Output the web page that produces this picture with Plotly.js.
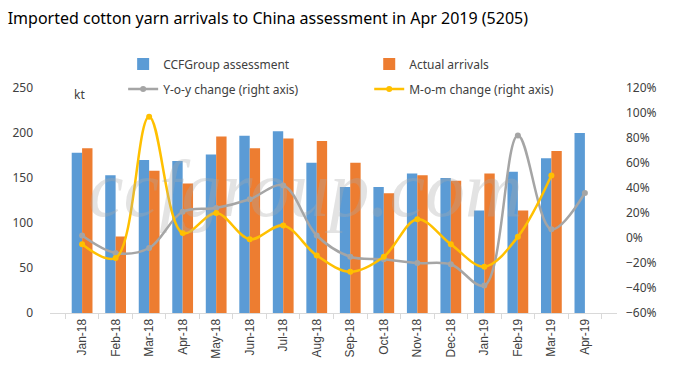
<!DOCTYPE html>
<html><head><meta charset="utf-8">
<script src="https://cdn.plot.ly/plotly-3.0.1.min.js"></script>
<style>html,body{margin:0;padding:0;background:#fff}#c{width:697px;height:377px}</style>
</head><body><div id="c"></div>
<script>
const months = ["Jan-18","Feb-18","Mar-18","Apr-18","May-18","Jun-18","Jul-18","Aug-18","Sep-18","Oct-18","Nov-18","Dec-18","Jan-19","Feb-19","Mar-19","Apr-19"];
const ccfAssessment = [178,153,170,169,176,197,202,167,140,140,155,150,114,157,172,200];
const actualArrivals = [183,85,158,144,196,183,194,191,167,133,153,147,155,114,180,null];
const yoyChange = [2,-12,-8,21,24,31,42,2,-15,-17,-20,-21,-38,82,7,36];
const momChange = [-5,-16,97,4,20,-1,10,-14,-27,-15,15,-5,-23,1,50,null];

const F = "Noto Sans, Open Sans, sans-serif";
const traces = [
 {type:'bar', name:'CCFGroup assessment', x:months, y:ccfAssessment, marker:{color:'#5B9BD5'}, legend:'legend'},
 {type:'bar', name:'Actual arrivals', x:months, y:actualArrivals, marker:{color:'#ED7D31'}, legend:'legend2'},
 {type:'scatter', mode:'lines+markers', name:'Y-o-y change (right axis)', x:months, y:yoyChange.map(v=>v/100), yaxis:'y2',
  line:{color:'#A5A5A5', width:2.5, shape:'spline', smoothing:1}, marker:{color:'#A5A5A5', size:6}, legend:'legend3'},
 {type:'scatter', mode:'lines+markers', name:'M-o-m change (right axis)', x:months, y:momChange.map(v=>v==null?null:v/100), yaxis:'y2',
  line:{color:'#FFC000', width:2.5, shape:'spline', smoothing:1}, marker:{color:'#FFC000', size:6}, legend:'legend4', connectgaps:false}
];
const lg = (x,y)=>({x:x, y:y, xanchor:'left', yanchor:'middle', bgcolor:'rgba(0,0,0,0)', font:{family:F, size:12, color:'#404040'}, itemwidth:30});
const layout = {
 width:697, height:377,
 margin:{l:50, r:80, t:88, b:64},
 paper_bgcolor:'#fff', plot_bgcolor:'#fff',
 barmode:'group', bargap:0.38, bargroupgap:0,
 font:{family:F, color:'#404040'},
 title:{text:'Imported cotton yarn arrivals to China assessment in Apr 2019 (5205)', x:0.011, xanchor:'left', y:0.952, yanchor:'middle', xref:'container', yref:'container', font:{family:F, size:16, color:'#000'}},
 xaxis:{type:'category', tickangle:-90, showgrid:false, showline:true, linecolor:'#d9d9d9', ticks:'outside', tickson:'boundaries', ticklen:5, tickcolor:'#d9d9d9', tickfont:{family:'Liberation Sans, Arial', size:12, color:'#404040'}, fixedrange:true},
 yaxis:{range:[0,250], dtick:50, showgrid:false, zeroline:false, showline:false, ticks:'', tickfont:{family:F, size:12, color:'#404040'}, ticklabelstandoff:16},
 yaxis2:{overlaying:'y', side:'right', range:[-0.6,1.2], dtick:0.2, tickformat:'.0%', showgrid:false, zeroline:false, showline:false, ticks:'', tickfont:{family:F, size:12, color:'#404040'}, ticklabelstandoff:8},
 showlegend:true,
 legend:lg(0.129,1.107), legend2:lg(0.563,1.107), legend3:lg(0.129,0.996), legend4:lg(0.563,0.996),
 annotations:[
  {text:'kt', xref:'paper', yref:'paper', x:0.052, y:0.97, xanchor:'center', yanchor:'middle', showarrow:false, font:{family:F, size:12, color:'#404040'}},
  {text:'ccfgroup.com', xref:'paper', yref:'paper', x:0.45, y:0.55, xanchor:'center', yanchor:'middle', showarrow:false, font:{family:'Liberation Serif, serif', size:80, color:'rgba(170,170,170,0.33)', style:'italic'}}
 ]
};
Plotly.newPlot('c', traces, layout, {staticPlot:true});
</script></body></html>
